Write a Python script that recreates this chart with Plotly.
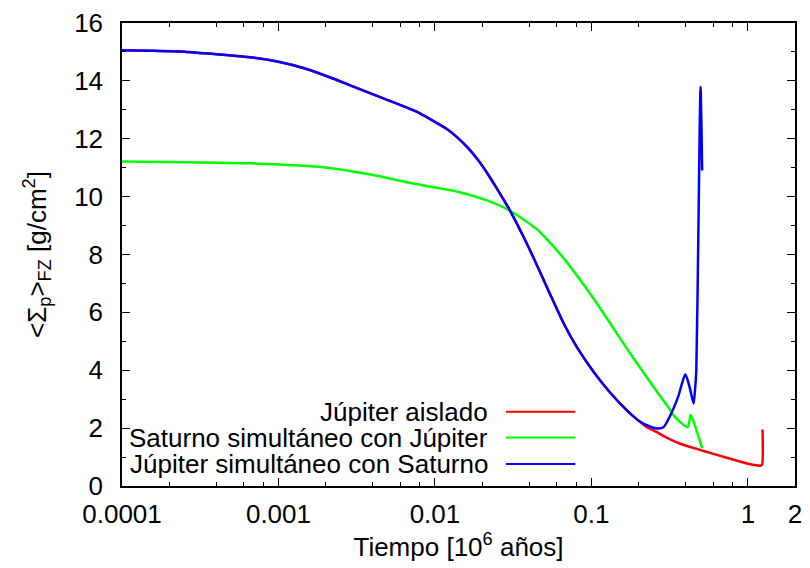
import plotly.graph_objects as go

# Júpiter aislado
jup_x = [1e-4, 1.505e-4, 2.587e-4, 6.79e-4, 1.0e-3, 1.495e-3, 2.186e-3, 2.929e-3, 4.814e-3,
         7.80e-3, 0.01045, 0.01209, 0.0140, 0.0162, 0.01875, 0.02171, 0.02512, 0.02994,
         0.0362, 0.04315, 0.05451, 0.0669, 0.08091, 0.1037, 0.1311, 0.168, 0.1945,
         0.204, 0.225, 0.26, 0.30, 0.366, 0.515, 0.761, 1.019, 1.15, 1.20, 1.232, 1.24]
jup_y = [15.06, 15.04, 15.00, 14.81, 14.66, 14.42, 14.10, 13.83, 13.37,
         12.91, 12.52, 12.31, 12.03, 11.69, 11.28, 10.79, 10.24, 9.55,
         8.69, 7.83, 6.62, 5.59, 4.79, 3.93, 3.24, 2.62, 2.31,
         2.22, 2.04, 1.87, 1.68, 1.47, 1.22, 0.95, 0.76, 0.71, 0.70, 0.74, 1.95]

# Saturno simultáneo con Júpiter
sat_x = [1e-4, 2.587e-4, 6.79e-4, 1.808e-3, 2.929e-3, 4.345e-3, 6.083e-3, 9.03e-3, 0.0140,
         0.02171, 0.02994, 0.04508, 0.0669, 0.1037, 0.168, 0.1945, 0.2605, 0.315, 0.334,
         0.3867, 0.414, 0.430, 0.446, 0.5105]
sat_y = [11.21, 11.19, 11.15, 11.03, 10.88, 10.71, 10.54, 10.36, 10.17,
         9.86, 9.52, 8.86, 7.85, 6.46, 4.76, 4.26, 3.28, 2.67, 2.45,
         2.12, 2.04, 2.45, 2.28, 1.31]

# Júpiter simultáneo con Saturno
jsat_x = [1e-4, 1.505e-4, 2.587e-4, 6.79e-4, 1.0e-3, 1.495e-3, 2.186e-3, 2.929e-3, 4.814e-3,
          7.80e-3, 0.01045, 0.01209, 0.0140, 0.0162, 0.01875, 0.02171, 0.02512, 0.02994,
          0.0362, 0.04315, 0.05451, 0.0669, 0.08091, 0.1037, 0.1311, 0.168, 0.1945,
          0.204, 0.226, 0.26, 0.2884, 0.316, 0.358, 0.398, 0.424, 0.4497, 0.459, 0.468,
          0.482, 0.498, 0.51]
jsat_y = [15.06, 15.04, 15.00, 14.81, 14.66, 14.42, 14.10, 13.83, 13.37,
          12.91, 12.52, 12.31, 12.03, 11.69, 11.28, 10.79, 10.24, 9.55,
          8.69, 7.83, 6.62, 5.59, 4.79, 3.93, 3.24, 2.62, 2.31,
          2.23, 2.10, 1.99, 2.03, 2.39, 3.08, 3.86, 3.42, 2.85, 3.31, 4.00,
          8.60, 13.80, 10.90]

names = ["Júpiter aislado", "Saturno simultáneo con Júpiter", "Júpiter simultáneo con Saturno"]
colors = ["#ff0000", "#00ff00", "#0000ff"]

x_tickvals = [1e-4, 1e-3, 1e-2, 0.1, 1, 2]
x_ticktext = ["0.0001", "0.001", "0.01", "0.1", "1", "2"]
x_minor = [m * 10.0 ** e for e in range(-4, 1) for m in (2, 4, 6, 8)]

FONT = "Liberation Sans, Arial, sans-serif"
FS = 26

fig = go.Figure()
for xs, ys, nm, c in zip([jup_x, sat_x, jsat_x], [jup_y, sat_y, jsat_y], names, colors):
    fig.add_trace(go.Scatter(x=xs, y=ys, mode="lines", name=nm,
                             line=dict(color=c, width=2.5, shape="spline", smoothing=0.6),
                             showlegend=False))

# custom legend (text right-aligned, sample line on the right, gnuplot style)
L, R, T, B = 122, 802, 22, 486
W, H = R - L, B - T
rows_py = [411.5, 437.5, 464]
for nm, c, py in zip(names, colors, rows_py):
    yp = (B - py) / H
    fig.add_annotation(x=(494 - L) / W, y=yp, xref="paper", yref="paper", text=nm,
                       showarrow=False, xanchor="right", yanchor="middle",
                       font=dict(family=FONT, size=FS, color="black"))
    fig.add_shape(type="line", xref="paper", yref="paper",
                  x0=(510 - L) / W, x1=(580 - L) / W, y0=yp, y1=yp,
                  line=dict(color=c, width=2))

axis_common = dict(showline=True, linecolor="black", linewidth=1.5, mirror="ticks",
                   ticks="inside", tickcolor="black", tickwidth=1, showgrid=False,
                   zeroline=False, tickfont=dict(family=FONT, size=FS, color="black"))

fig.update_xaxes(type="log", range=[-4, 0.30103], tickmode="array", tickvals=x_tickvals,
                 ticktext=x_ticktext, ticklen=8, ticklabelstandoff=4,
                 minor=dict(tickmode="array", tickvals=x_minor, ticks="inside", ticklen=4,
                            tickcolor="black", showgrid=False),
                 title=dict(text="Tiempo [10<sup>6</sup> años]",
                            font=dict(family=FONT, size=FS, color="black"), standoff=9),
                 **axis_common)
fig.update_yaxes(range=[0, 16], tickmode="linear", tick0=0, dtick=2, ticklen=8,
                 ticklabelstandoff=12,
                 minor=dict(tickmode="linear", tick0=0, dtick=1, ticks="inside", ticklen=4,
                            tickcolor="black", showgrid=False),
                 title=dict(text="&lt;Σ<sub>p</sub>&gt;<sub>FZ</sub> [g/cm<sup>2</sup>]",
                            font=dict(family=FONT, size=FS, color="black"), standoff=20),
                 **axis_common)

fig.update_layout(width=810, height=568, margin=dict(l=L, r=810 - R, t=T, b=568 - B),
                  plot_bgcolor="white", paper_bgcolor="white", showlegend=False)

fig.write_html("out.html")
